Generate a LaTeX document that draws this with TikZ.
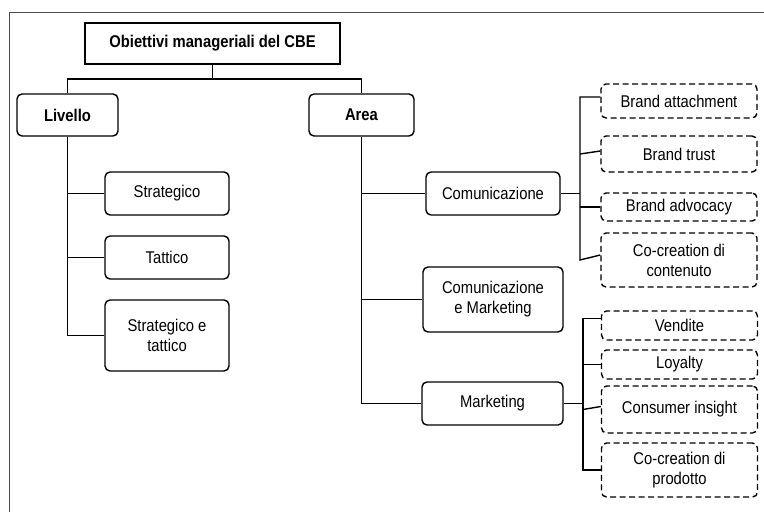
\documentclass[tikz,border=0pt]{standalone}
\usepackage{fontspec}
\setmainfont[FakeStretch=0.87]{Liberation Sans}
\usepackage{tikz}
\usetikzlibrary{calc}

\tikzset{
  box/.style={draw,line width=1.4pt,rounded corners=5pt,align=center,
    font=\fontsize{17}{20}\selectfont,inner sep=0pt},
  rootbox/.style={box,rounded corners=0pt,font=\fontsize{17}{20}\selectfont\bfseries},
  headbox/.style={box,font=\fontsize{17}{20}\selectfont\bfseries},
  leafbox/.style={box,dash pattern=on 6pt off 3.5pt},
  link/.style={line width=1.4pt},
}

\begin{document}
\begin{tikzpicture}[x=1pt,y=-1pt]
            \useasboundingbox (0,0) rectangle (764,512);
            \draw[black!70,line width=1pt] (764,12.5) -- (9,12.5) -- (9,512);

            % top and first level
            \node[rootbox,minimum width=255pt,minimum height=41pt] (obj) at (212.5,43.5) {Obiettivi manageriali del CBE};
            \node[headbox,minimum width=101pt,minimum height=42pt] (livello) at (67.5,115) {Livello};
            \node[headbox,minimum width=105pt,minimum height=42pt] (area) at (361.5,115) {Area};

            \coordinate (split) at (212.5,79);
            \draw[link] (obj) -- (split);
            \draw[link] (livello.north) |- (split) -| (area.north);

            % Livello
            \node[box,minimum width=124pt,minimum height=43pt] (strat) at (167,193.5) {Strategico};
            \node[box,minimum width=124pt,minimum height=43pt] (tatt) at (167,257.5) {Tattico};
            \node[box,minimum width=124pt,minimum height=71pt] (strtatt) at (167,335.5) {Strategico e\\tattico};

            \draw[link] (livello.south) |- (strtatt.west);
            \draw[link] (livello.south |- strat.west) -- (strat.west);
            \draw[link] (livello.south |- tatt.west) -- (tatt.west);

            % Area
            \node[box,minimum width=134pt,minimum height=43pt] (comu) at (493,193.5) {Comunicazione};
            \node[box,minimum width=140pt,minimum height=65pt] (comark) at (493,299.5) {Comunicazione\\e Marketing};
            \node[box,minimum width=141pt,minimum height=43pt] (mark) at (492.5,403.5) {Marketing};

            \draw[link] (area.south) |- (mark.west);
            \draw[link] (area.south |- comu.west) -- (comu.west);
            \draw[link] (area.south |- comark.west) -- (comark.west);

            % Comunicazione
            \node[leafbox,minimum width=156pt,minimum height=34pt] (attach) at (679,101) {Brand attachment};
            \node[leafbox,minimum width=156pt,minimum height=36pt] (trust) at (679,154) {Brand trust};
            \node[leafbox,minimum width=156pt,minimum height=28pt] (advoc) at (679,207) {Brand advocacy};
            \node[leafbox,minimum width=156pt,minimum height=54pt] (cocont) at (679,260) {Co-creation di\\contenuto};

            \coordinate (cbus) at (580,193.5);
            \draw[link] (comu.east) -- (cbus);
            \draw[link] ([yshift=4pt]attach.west) -| (cbus |- cocont.west) -- ([yshift=5pt]cocont.west);
            \draw[link] (cbus |- trust.west) -- ([yshift=3pt]trust.west);
            \draw[link] (cbus |- advoc.west) -- (advoc.west);

            % Marketing
            \node[leafbox,minimum width=156pt,minimum height=29pt] (vend) at (679.5,325.5) {Vendite};
            \node[leafbox,minimum width=156pt,minimum height=29pt] (loyal) at (679.5,364.5) {Loyalty};
            \node[leafbox,minimum width=156pt,minimum height=47pt] (insight) at (679.5,409.5) {Consumer insight};
            \node[leafbox,minimum width=156pt,minimum height=54pt] (coprod) at (679.5,470) {Co-creation di\\prodotto};

            \coordinate (mbus) at (583,403.5);
            \draw[link] (mark.east) -- (mbus);
            \draw[link] ([yshift=7pt]vend.west) -| (mbus |- coprod.west) -- (coprod.west);
            \draw[link] (mbus |- loyal.west) -- (loyal.west);
            \draw[link] (mbus |- insight.west) -- ([yshift=3pt]insight.west);

        \end{tikzpicture}
\end{document}
